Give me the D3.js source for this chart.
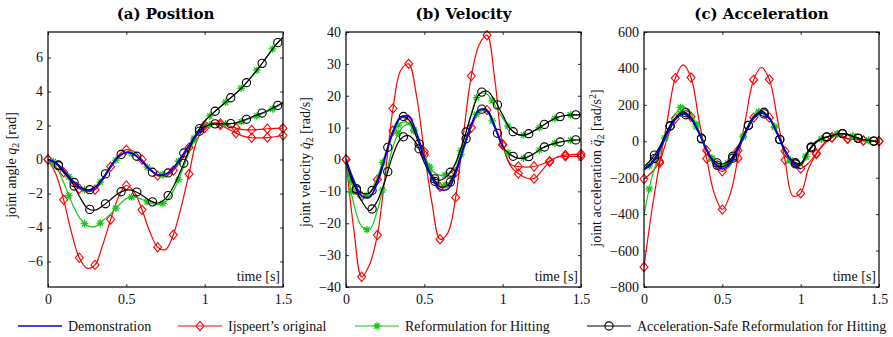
<!DOCTYPE html>
<html>
<head>
<meta charset="utf-8">
<script src="https://cdn.jsdelivr.net/npm/d3@7"></script>
<style>
  body { margin: 0; background: #fff; }
  svg { display: block; }
</style>
</head>
<body>
<svg id="chart" width="893" height="337"></svg>
<script>
// ---------------------------------------------------------------
// Sample grid: 0 … 1.5 s every 50 ms; the demonstration lasts 1 s
// ---------------------------------------------------------------
const timeGrid = d3.range(31).map(i => +(i * 0.05).toFixed(2));
const demoTime = timeGrid.slice(0, 21);

const xTicks = [0, 0.5, 1, 1.5];
const posTicks = [-6, -4, -2, 0, 2, 4, 6];
const velTicks = [-40, -30, -20, -10, 0, 10, 20, 30, 40];
const accTicks = [-800, -600, -400, -200, 0, 200, 400, 600];

const legendNames = ["Demonstration", "Ijspeert\u2019s original",
                     "Reformulation for Hitting",
                     "Acceleration-Safe Reformulation for Hitting"];

// ---------------- joint angle q2 [rad] ----------------
const demoPos = [0, -0.18, -0.62, -1.17, -1.62, -1.84, -1.68, -1.15, -0.45, 0.15, 0.43,
                 0.3, -0.1, -0.57, -0.88, -0.88, -0.52, 0.1, 0.8, 1.45, 1.9];
const ijspeertNearPos = [0, -0.25, -0.75, -1.3, -1.72, -1.9, -1.78, -1.2, -0.42, 0.25, 0.58,
                 0.45, 0.0, -0.55, -0.95, -1.0, -0.65, -0.05, 0.7, 1.45, 2.0,
                 2.15, 2.12, 2.0, 1.85, 1.76, 1.74, 1.77, 1.81, 1.83, 1.84];
const ijspeertFarPos = [0, -0.85, -2.37, -4.3, -5.78, -6.4, -6.2, -5.0, -3.53, -2.2, -1.53,
                 -1.9, -2.96, -4.25, -5.16, -5.3, -4.43, -2.8, -0.85, 1.1, 1.85,
                 2.1, 2.02, 1.8, 1.55, 1.36, 1.28, 1.27, 1.29, 1.34, 1.42];
const hittingNearPos = [0, -0.2, -0.65, -1.2, -1.62, -1.8, -1.65, -1.12, -0.45, 0.12, 0.4,
                 0.28, -0.12, -0.6, -0.88, -0.85, -0.5, 0.12, 0.8, 1.45, 1.9,
                 2.08, 2.1, 2.1, 2.14, 2.27, 2.45, 2.62, 2.82, 3.05, 3.3];
const hittingFarPos = [0, -0.4, -1.35, -2.5, -3.4, -3.88, -3.95, -3.6, -3.2, -2.7, -2.3,
                 -2.2, -2.35, -2.55, -2.65, -2.5, -1.85, -0.8, 0.4, 1.5, 2.25,
                 2.7, 3.1, 3.5, 3.9, 4.35, 4.88, 5.45, 6.08, 6.7, 7.2];
const safeNearPos = [0, -0.2, -0.65, -1.2, -1.6, -1.8, -1.62, -1.07, -0.38, 0.18, 0.42,
                 0.3, -0.12, -0.62, -0.92, -0.88, -0.5, 0.15, 0.85, 1.5, 1.92,
                 2.08, 2.1, 2.1, 2.15, 2.3, 2.5, 2.67, 2.87, 3.1, 3.35];
const safeFarPos = [0, -0.22, -0.75, -1.3, -2.15, -2.85, -2.98, -2.72, -2.35, -1.98, -1.8,
                 -1.85, -2.1, -2.42, -2.56, -2.3, -1.6, -0.6, 0.55, 1.55, 2.25,
                 2.7, 3.1, 3.5, 3.9, 4.35, 4.88, 5.45, 6.08, 6.7, 7.2];

// ---------------- joint velocity [rad/s] ----------------
const demoVel = [0, -6.5, -11.3, -11.8, -7.5, 0.5, 8.5, 13.2, 13.5, 8.5, 0.5,
                 -6, -9.3, -9.3, -4.5, 3.5, 11, 15.5, 15.2, 10, 4];
const ijspeertNearVel = [0, -7.5, -11.5, -12, -6.3, 1.5, 9, 13, 12.5, 7.5, 1.5,
                 -5, -8.6, -8.5, -4, 3, 10, 15, 15.5, 10.5, 4.5,
                 -1.5, -2.2, -2.4, -2.2, -1.5, -0.5, 0.8, 1.4, 1.6, 1.7];
const ijspeertFarVel = [0, -22, -36.8, -33, -23.7, -5, 16, 28, 30, 20, 2.4,
                 -14, -25, -23, -11.9, 8, 26.2, 36, 39, 25, 4.8,
                 -2, -4.4, -5.8, -6, -3.5, -0.7, 0.8, 1.0, 1.0, 1.0];
const hittingNearVel = [0, -9, -12, -10.5, -5.5, 1.5, 8, 11.5, 11.5, 7.5, 1,
                 -5, -8, -7.5, -3, 4, 11, 15, 15, 10, 4,
                 1.5, 0.4, 0.6, 1.8, 3.5, 4.6, 5.3, 5.8, 6.1, 6.2];
const hittingFarVel = [0, -14, -21, -22, -16, -6, 4, 9.5, 11, 7.5, 1.5,
                 -3.5, -5, -4.5, -1.5, 5.5, 14.5, 20.5, 20.5, 17, 13,
                 9.5, 7.8, 7.8, 9, 10.5, 12, 13.2, 13.8, 14, 14];
const safeNearVel = [0, -8, -10.5, -10.5, -6.5, 1, 9, 13.5, 12.5, 7, 0.5,
                 -5.5, -8.5, -8, -3.5, 4, 11, 15.5, 15.5, 10.5, 4,
                 1.5, 0.4, 0.6, 1.8, 3.5, 4.6, 5.3, 5.8, 6.1, 6.2];
const safeFarVel = [0, -7.5, -13, -16, -13, -6.5, 1.5, 6.5, 7.5, 5, -1,
                 -5.5, -6.5, -5, -1, 6, 14, 20.5, 21.5, 18.5, 14,
                 9.5, 7.8, 7.8, 9, 10.5, 12, 13.2, 13.8, 14, 14];

// ---------------- joint acceleration [rad/s^2] ----------------
const demoAcc = [-155, -125, -48, 45, 120, 152, 125, 48, -45, -122, -152,
                 -122, -45, 48, 125, 155, 125, 45, -48, -122, -152];
const ijspeertNearAcc = [-207, -170, -110, 20, 125, 160, 135, 55, -50, -135, -165,
                 -130, -50, 50, 130, 160, 130, 50, -55, -130, -150,
                 -120, -66, -10, 22, 30, 13, 10, 4, 2, 0];
const ijspeertFarAcc = [-690, -380, -118, 120, 347, 420, 350, 120, -95, -290, -375,
                 -290, -93, 130, 338, 405, 340, 130, -103, -300, -286,
                 -150, -70, -15, 20, 35, 15, 10, 4, 2, 0];
const hittingNearAcc = [-160, -120, -45, 50, 125, 160, 130, 50, -45, -115, -140,
                 -115, -40, 55, 130, 160, 130, 50, -50, -120, -135,
                 -55, -5, 18, 30, 42, 38, 22, 10, 3, -3];
const hittingFarAcc = [-405, -200, -65, 55, 150, 192, 150, 60, -40, -110, -135,
                 -105, -35, 60, 140, 165, 130, 45, -60, -120, -130,
                 -55, -5, 18, 30, 42, 38, 22, 10, 3, -3];
const safeNearAcc = [-150, -115, -40, 55, 130, 162, 130, 50, -50, -120, -140,
                 -112, -38, 58, 135, 165, 130, 45, -55, -115, -130,
                 -55, -5, 18, 30, 42, 38, 22, 10, 3, -3];
const safeFarAcc = [-140, -95, -30, 60, 125, 150, 120, 45, -50, -110, -125,
                 -100, -30, 60, 130, 155, 125, 40, -50, -110, -120,
                 -50, 0, 20, 32, 42, 36, 20, 10, 3, -3];

// ---------------------------------------------------------------
// Styles
// ---------------------------------------------------------------
const SERIF = "'Liberation Serif', 'Times New Roman', serif";
const TITLE_FONT = "'DejaVu Serif', serif";
const COLORS = { demo: "#0000ff", ijspeert: "#ff0000", hitting: "#14c814", safe: "#000000" };
const STYLE = {
  demo:     { color: COLORS.demo,     width: 1.6, marker: null },
  ijspeert: { color: COLORS.ijspeert, width: 1.2, marker: "diamond",  offset: 0 },
  hitting:  { color: COLORS.hitting,  width: 1.2, marker: "asterisk", offset: 0.1 / 3 },
  safe:     { color: COLORS.safe,     width: 1.2, marker: "circle",   offset: 0.2 / 3 }
};

const svg = d3.select("#chart");
const TOP = 32, H = 255, W = 235;

const panels = [
  { id: "a", title: "(a) Position", left: 48, domain: [-7.5, 7.5], ticks: posTicks,
    labelX: 16, labelY: 165,
    label: [["joint angle ", ""], ["q", "it"], ["2", "sub"], [" [rad]", ""]],
    demo: demoPos,
    lines: [["ijspeert", ijspeertFarPos], ["ijspeert", ijspeertNearPos],
            ["hitting", hittingFarPos], ["hitting", hittingNearPos],
            ["safe", safeFarPos], ["safe", safeNearPos]] },
  { id: "b", title: "(b) Velocity", left: 346, domain: [-40, 40], ticks: velTicks,
    labelX: 310, labelY: 162,
    label: [["joint velocity ", ""], ["q\u0307", "it"], ["2", "sub"], [" [rad/s]", ""]],
    demo: demoVel,
    lines: [["ijspeert", ijspeertFarVel], ["ijspeert", ijspeertNearVel],
            ["hitting", hittingFarVel], ["hitting", hittingNearVel],
            ["safe", safeFarVel], ["safe", safeNearVel]] },
  { id: "c", title: "(c) Acceleration", left: 644, domain: [-800, 600], ticks: accTicks,
    labelX: 601, labelY: 168,
    label: [["joint acceleration ", ""], ["q\u0308", "it"], ["2", "sub"], [" [rad/s", ""], ["2", "sup"], ["]", ""]],
    demo: demoAcc,
    lines: [["ijspeert", ijspeertFarAcc], ["ijspeert", ijspeertNearAcc],
            ["hitting", hittingFarAcc], ["hitting", hittingNearAcc],
            ["safe", safeFarAcc], ["safe", safeNearAcc]] }
];

// ---------------------------------------------------------------
// Marker glyphs
// ---------------------------------------------------------------
function addMarker(sel, type, color, cx, cy) {
  const g = sel.append("g").attr("transform", `translate(${cx},${cy})`)
    .attr("fill", "none").attr("stroke", color).attr("stroke-width", 1.1);
  if (type === "diamond") {
    g.append("path").attr("d", "M0,-4.6L4,0L0,4.6L-4,0Z");
  } else if (type === "circle") {
    g.append("circle").attr("r", 4.1);
  } else if (type === "asterisk") {
    const s = 3.8, a = s * 0.7071;
    g.append("path").attr("stroke-width", 1.3).attr("d",
      `M${-s},0H${s}M0,${-s}V${s}M${-a},${-a}L${a},${a}M${-a},${a}L${a},${-a}`);
  }
}

// point on a drawn path whose x equals the requested pixel x
function pointAtX(node, px) {
  let lo = 0, hi = node.getTotalLength();
  for (let i = 0; i < 40; i++) {
    const mid = (lo + hi) / 2;
    if (node.getPointAtLength(mid).x < px) lo = mid; else hi = mid;
  }
  return node.getPointAtLength((lo + hi) / 2);
}

// ---------------------------------------------------------------
// Panels
// ---------------------------------------------------------------
panels.forEach(p => {
  const x = d3.scaleLinear().domain([0, 1.5]).range([p.left, p.left + W]);
  const y = d3.scaleLinear().domain(p.domain).range([TOP + H, TOP]);
  const g = svg.append("g");

  const clipId = "clip-" + p.id;
  svg.append("clipPath").attr("id", clipId)
    .append("rect").attr("x", p.left).attr("y", TOP).attr("width", W).attr("height", H);

  // axes with inward ticks on all four sides
  const fmt = d3.format("");
  const axB = g.append("g").attr("transform", `translate(0,${TOP + H})`)
    .call(d3.axisBottom(x).tickValues(xTicks).tickSizeInner(-3).tickSizeOuter(0).tickPadding(7).tickFormat(fmt));
  const axT = g.append("g").attr("transform", `translate(0,${TOP})`)
    .call(d3.axisTop(x).tickValues(xTicks).tickSizeInner(-3).tickSizeOuter(0).tickFormat(""));
  const axL = g.append("g").attr("transform", `translate(${p.left},0)`)
    .call(d3.axisLeft(y).tickValues(p.ticks).tickSizeInner(-3).tickSizeOuter(0).tickPadding(5).tickFormat(fmt));
  const axR = g.append("g").attr("transform", `translate(${p.left + W},0)`)
    .call(d3.axisRight(y).tickValues(p.ticks).tickSizeInner(-3).tickSizeOuter(0).tickFormat(""));
  [axB, axT, axL, axR].forEach(a => {
    a.select(".domain").remove();
    a.selectAll(".tick line").attr("stroke", "#000").attr("stroke-width", 0.8);
    a.selectAll(".tick text").style("font-family", SERIF)
      .style("font-size", "14px").attr("fill", "#111");
  });

  // curves
  const line = d3.line().x((d, i) => x(timeGrid[i])).y(d => y(d))
    .curve(d3.curveCatmullRom.alpha(0.5));
  const drawLine = (key, values) => {
    const st = STYLE[key];
    const path = g.append("path").datum(values).attr("d", line)
      .attr("fill", "none").attr("stroke", st.color).attr("stroke-width", st.width)
      .attr("stroke-linejoin", "round").attr("clip-path", `url(#${clipId})`);
    if (st.marker) {
      const node = path.node();
      const tEnd = timeGrid[values.length - 1];
      d3.range(st.offset, tEnd + 1e-6, 0.1).forEach(t => {
        const pt = pointAtX(node, x(t));
        addMarker(g, st.marker, st.color, pt.x, pt.y);
      });
    }
  };
  p.lines.forEach(([key, values]) => drawLine(key, values));
  drawLine("demo", p.demo);

  // frame
  g.append("rect").attr("x", p.left).attr("y", TOP).attr("width", W).attr("height", H)
    .attr("fill", "none").attr("stroke", "#000").attr("stroke-width", 1.2);

  // title
  g.append("text").attr("x", p.left + W / 2).attr("y", 19).attr("text-anchor", "middle")
    .style("font-family", TITLE_FONT).style("font-weight", "bold").style("font-size", "15px")
    .text(p.title);

  // time label inside the frame
  g.append("text").attr("x", p.left + W - 3).attr("y", TOP + H - 6).attr("text-anchor", "end")
    .style("font-family", SERIF).style("font-size", "14px").attr("fill", "#111").text("time [s]");

  // y label
  const yl = g.append("text").attr("text-anchor", "middle")
    .style("font-family", SERIF).style("font-size", "14px").attr("fill", "#111")
    .attr("transform", `translate(${p.labelX},${p.labelY}) rotate(-90)`);
  let shift = 0;
  p.label.forEach(([txt, kind]) => {
    const ts = yl.append("tspan").text(txt);
    if (kind === "it") ts.style("font-style", "italic");
    if (kind === "sub") { ts.style("font-size", "10px").attr("dy", 3 - shift); shift = 3; }
    else if (kind === "sup") { ts.style("font-size", "10px").attr("dy", -5 - shift); shift = -5; }
    else if (shift !== 0) { ts.attr("dy", -shift); shift = 0; }
  });
});

// ---------------------------------------------------------------
// Legend
// ---------------------------------------------------------------
const legendItems = [
  { key: "demo", x0: 18 }, { key: "ijspeert", x0: 178 },
  { key: "hitting", x0: 355 }, { key: "safe", x0: 587 }
];
const lg = svg.append("g");
legendItems.forEach((it, i) => {
  const st = STYLE[it.key];
  lg.append("line").attr("x1", it.x0).attr("x2", it.x0 + 44).attr("y1", 326).attr("y2", 326)
    .attr("stroke", st.color).attr("stroke-width", st.width);
  if (st.marker) addMarker(lg, st.marker, st.color, it.x0 + 22, 326);
  lg.append("text").attr("x", it.x0 + 50).attr("y", 331)
    .style("font-family", SERIF).style("font-size", "14px").attr("fill", "#111")
    .text(legendNames[i]);
});
</script>
</body>
</html>
